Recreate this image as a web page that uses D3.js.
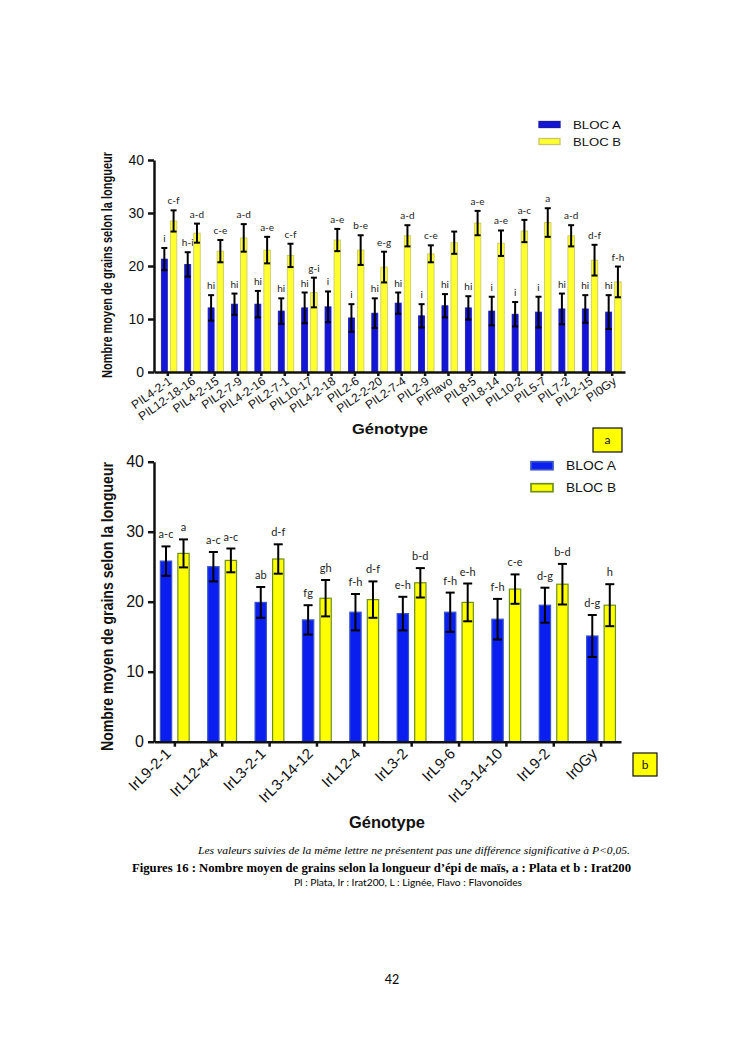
<!DOCTYPE html>
<html>
<head>
<meta charset="utf-8">
<script src="https://cdn.jsdelivr.net/npm/d3@7"></script>
<style>
  body { margin: 0; background: #fff; }
</style>
</head>
<body>
<svg id="page" width="745" height="1053"></svg>
<script>
// --- figure a : Plata ---
const genotypesA = ["PIL4-2-1", "PIL12-18-16", "PIL4-2-15", "PIL2-7-9", "PIL4-2-16", "PIL2-7-1", "PIL10-17",
    "PIL4-2-18", "PIL2-6", "PIL2-2-20", "PIL2-7-4", "PIL2-9", "PIFlavo", "PIL8-5", "PIL8-14", "PIL10-2",
    "PIL5-7", "PIL7-2", "PIL2-15", "PI0Gy"];
const blocA_a = [21.3, 20.3, 12.1, 12.8, 12.8, 11.5, 12.1, 12.3, 10.2, 11.1, 13.0, 10.6, 12.5, 12.1, 11.5, 10.9, 11.3, 11.9, 11.9, 11.3];
const errA_a = [2.1, 2.3, 2.4, 2.0, 2.5, 2.4, 2.9, 2.9, 2.6, 2.8, 2.0, 2.2, 2.2, 2.2, 2.7, 2.3, 2.9, 2.9, 2.6, 3.2];
const blocB_a = [28.5, 26.2, 22.8, 25.3, 23.0, 22.0, 15.0, 24.9, 23.0, 19.8, 25.7, 22.3, 24.4, 28.1, 24.3, 26.6, 28.2, 25.7, 21.1, 17.0];
const errB_a = [2.0, 1.8, 2.1, 2.6, 2.5, 2.2, 2.8, 2.1, 2.8, 2.9, 2.0, 1.6, 2.1, 2.3, 2.4, 2.1, 2.7, 2.0, 2.9, 2.9];
const lettersA_a = ["i", "h-i", "hi", "hi", "hi", "hi", "hi", "i", "i", "hi", "hi", "i", "hi", "hi", "i", "i", "i", "hi", "hi", "hi"];
const lettersB_a = ["c-f", "a-d", "c-e", "a-d", "a-e", "c-f", "g-i", "a-e", "b-e", "e-g", "a-d", "c-e", "", "a-e", "a-e", "a-c", "a", "a-d", "d-f", "f-h"];

// --- figure b : Irat200 ---
const genotypesB = ["IrL9-2-1", "IrL12-4-4", "IrL3-2-1", "IrL3-14-12", "IrL12-4", "IrL3-2", "IrL9-6", "IrL3-14-10", "IrL9-2", "Ir0Gy"];
const blocA_b = [25.8, 25.0, 19.9, 17.4, 18.5, 18.3, 18.5, 17.5, 19.5, 15.1];
const errA_b = [2.1, 2.1, 2.2, 2.1, 2.6, 2.4, 2.8, 2.9, 2.5, 3.0];
const blocB_b = [26.9, 25.9, 26.1, 20.5, 20.3, 22.7, 19.9, 21.8, 22.5, 19.5];
const errB_b = [2.0, 1.7, 2.1, 2.6, 2.6, 2.1, 2.7, 2.1, 2.9, 3.0];
const lettersA_b = ["a-c", "a-c", "ab", "fg", "f-h", "e-h", "f-h", "f-h", "d-g", "d-g"];
const lettersB_b = ["a", "a-c", "d-f", "gh", "d-f", "b-d", "e-h", "c-e", "b-d", "h"];

const yTicks = [0, 10, 20, 30, 40];
const seriesNames = ["BLOC A", "BLOC B"];
const yTitle = "Nombre moyen de grains selon la longueur";
const xTitle = "Génotype";

const svg = d3.select("#page");
const sans = "'Liberation Sans', Arial, sans-serif";
const calib = "Lato, 'Open Sans', sans-serif";

function drawChart(c) {
    const g = svg.append("g");

    const y = d3.scaleLinear().domain([0, 40]).range([c.bottom, c.top]);
    const x = d3.scalePoint().domain(c.genotypes).range([c.left, c.right]).padding(c.pad);

    const rows = c.genotypes.map((k, i) => ({ k, i }));

    c.series.forEach(s => {
        const val = d => s.values[d.i];
        const err = d => s.errors[d.i];
        const cx = d => x(d.k) + s.off + s.w / 2;

        g.append("g").selectAll("rect")
            .data(rows)
            .join("rect")
            .attr("x", d => x(d.k) + s.off)
            .attr("y", d => y(val(d)))
            .attr("width", s.w)
            .attr("height", d => y(0) - y(val(d)))
            .attr("fill", s.fill)
            .attr("stroke", s.stroke)
            .attr("stroke-width", c.barStroke);

        const eb = g.append("g")
            .attr("stroke", "#000")
            .attr("stroke-width", c.errWidth)
            .selectAll("g")
            .data(rows)
            .join("g");

        eb.append("line")
            .attr("x1", cx).attr("x2", cx)
            .attr("y1", d => y(val(d) - err(d)))
            .attr("y2", d => y(val(d) + err(d)));
        eb.append("line")
            .attr("x1", d => cx(d) - c.cap / 2).attr("x2", d => cx(d) + c.cap / 2)
            .attr("y1", d => y(val(d) + err(d))).attr("y2", d => y(val(d) + err(d)));
        eb.append("line")
            .attr("x1", d => cx(d) - c.cap / 2).attr("x2", d => cx(d) + c.cap / 2)
            .attr("y1", d => y(val(d) - err(d))).attr("y2", d => y(val(d) - err(d)));

        g.append("g").selectAll("text")
            .data(rows)
            .join("text")
            .attr("x", cx)
            .attr("y", d => y(val(d) + err(d)) - c.letterGap)
            .attr("text-anchor", "middle")
            .attr("font-family", calib)
            .attr("font-size", c.letterSize)
            .attr("fill", "#222")
            .text(d => s.letters[d.i]);
    });

    // axe Y
    g.append("g")
        .attr("transform", `translate(${c.left},0)`)
        .call(d3.axisLeft(y).tickValues(yTicks).tickSize(c.tickLen).tickSizeOuter(0).tickPadding(c.yPad))
        .call(a => a.selectAll("path, line").attr("stroke", "#111").attr("stroke-width", c.axisWidth))
        .call(a => a.selectAll("text").attr("font-family", sans).attr("font-size", c.yTickSize).attr("fill", "#111"));

    // axe X
    g.append("g")
        .attr("transform", `translate(0,${c.bottom})`)
        .call(d3.axisBottom(x).tickSize(c.xTickLen).tickSizeOuter(0))
        .call(a => a.selectAll("path, line").attr("stroke", "#111").attr("stroke-width", c.axisWidth))
        .call(a => a.selectAll("text")
            .attr("x", 0).attr("y", 0).attr("dy", 0)
            .attr("transform", `translate(${c.lx},${c.ly}) rotate(${-c.angle})`)
            .attr("text-anchor", "end")
            .attr("font-family", sans)
            .attr("font-size", c.xTickSize)
            .attr("fill", "#111"));

    // titres
    g.append("text")
        .attr("transform", `translate(${c.yTitleX},${(c.yTitleTop + c.yTitleBottom) / 2}) rotate(-90)`)
        .attr("text-anchor", "middle")
        .attr("dy", "0.35em")
        .attr("font-family", sans)
        .attr("font-weight", "bold")
        .attr("font-size", c.yTitleSize)
        .attr("textLength", c.yTitleBottom - c.yTitleTop)
        .attr("lengthAdjust", "spacingAndGlyphs")
        .attr("fill", "#111")
        .text(yTitle);

    g.append("text")
        .attr("x", c.xTitleX)
        .attr("y", c.xTitleY)
        .attr("text-anchor", "middle")
        .attr("font-family", sans)
        .attr("font-weight", "bold")
        .attr("font-size", c.xTitleSize)
        .attr("textLength", c.xTitleLen)
        .attr("lengthAdjust", "spacingAndGlyphs")
        .attr("fill", "#111")
        .text(xTitle);

    // légende
    const leg = g.append("g").selectAll("g")
        .data(c.series)
        .join("g")
        .attr("transform", (s, i) => `translate(${c.legX},${c.legY + i * c.legStep})`);
    leg.append("rect")
        .attr("x", 0).attr("y", -c.legH / 2)
        .attr("width", c.legW).attr("height", c.legH)
        .attr("fill", s => s.fill)
        .attr("stroke", s => s.stroke)
        .attr("stroke-width", c.barStroke + 0.5);
    leg.append("text")
        .attr("x", c.legTextX)
        .attr("dy", "0.36em")
        .attr("font-family", sans)
        .attr("font-size", c.legSize)
        .attr("textLength", c.legTextLen)
        .attr("lengthAdjust", "spacingAndGlyphs")
        .attr("fill", "#111")
        .text((s, i) => seriesNames[i]);

    // boîte repère
    g.append("rect")
        .attr("x", c.box[0]).attr("y", c.box[1])
        .attr("width", c.box[2]).attr("height", c.box[3])
        .attr("fill", "#ffff00")
        .attr("stroke", "#111")
        .attr("stroke-width", 1.2);
    g.append("text")
        .attr("x", c.box[0] + c.box[2] / 2)
        .attr("y", c.box[1] + c.box[3] / 2)
        .attr("dy", "0.35em")
        .attr("text-anchor", "middle")
        .attr("font-family", calib)
        .attr("font-size", 12)
        .attr("fill", "#111")
        .text(c.boxLabel);
}

drawChart({
    genotypes: genotypesA,
    top: 160, bottom: 372, left: 154, right: 625, pad: 0.57,
    series: [
        { values: blocA_a, errors: errA_a, letters: lettersA_a, off: -6, w: 6, fill: "#1414d6", stroke: "#1a1aa8" },
        { values: blocB_a, errors: errB_a, letters: lettersB_a, off: 3, w: 6.5, fill: "#ffff30", stroke: "#c8c46a" }
    ],
    barStroke: 0.8, errWidth: 2, cap: 6, letterGap: 6, letterSize: 10,
    axisWidth: 2.5, tickLen: 6, xTickLen: 4, yPad: 4, yTickSize: 14,
    lx: 5, ly: 11, angle: 35, xTickSize: 12,
    yTitleX: 107, yTitleTop: 152, yTitleBottom: 378, yTitleSize: 15,
    xTitleX: 390, xTitleY: 434, xTitleSize: 15, xTitleLen: 76,
    legX: 539, legY: 124.5, legStep: 17, legW: 21, legH: 6, legTextX: 34, legSize: 11.5, legTextLen: 48,
    box: [593, 428, 29, 24], boxLabel: "a"
});

drawChart({
    genotypes: genotypesB,
    top: 461.7, bottom: 741.7, left: 154, right: 621, pad: 0.43,
    series: [
        { values: blocA_b, errors: errA_b, letters: lettersA_b, off: -14, w: 11.3, fill: "#0a1ef0", stroke: "#3a55c8" },
        { values: blocB_b, errors: errB_b, letters: lettersB_b, off: 3.5, w: 11.3, fill: "#ffff00", stroke: "#6f8f1c" }
    ],
    barStroke: 1.2, errWidth: 2, cap: 9, letterGap: 8, letterSize: 11,
    axisWidth: 2.5, tickLen: 6, xTickLen: 5, yPad: 4, yTickSize: 16,
    lx: -3, ly: 13, angle: 45, xTickSize: 15,
    yTitleX: 107, yTitleTop: 462, yTitleBottom: 751, yTitleSize: 17,
    xTitleX: 387, xTitleY: 828, xTitleSize: 16.5, xTitleLen: 76,
    legX: 531, legY: 465.7, legStep: 22, legW: 22, legH: 8, legTextX: 35, legSize: 13, legTextLen: 50,
    box: [633, 753, 24, 23], boxLabel: "b"
});

// notes sous la figure
svg.append("text")
    .attr("x", 630).attr("y", 854)
    .attr("text-anchor", "end")
    .attr("font-family", "'Liberation Serif', 'Times New Roman', serif")
    .attr("font-style", "italic")
    .attr("font-size", 11)
    .attr("textLength", 432)
    .attr("lengthAdjust", "spacingAndGlyphs")
    .text("Les valeurs suivies de la même lettre ne présentent pas une différence significative à P<0,05.");

svg.append("text")
    .attr("x", 132).attr("y", 872)
    .attr("font-family", "'Liberation Serif', 'Times New Roman', serif")
    .attr("font-weight", "bold")
    .attr("font-size", 12)
    .attr("textLength", 499)
    .attr("lengthAdjust", "spacingAndGlyphs")
    .text("Figures 16 : Nombre moyen de grains selon la longueur d’épi de maïs, a : Plata et b : Irat200");

svg.append("text")
    .attr("x", 294).attr("y", 886)
    .attr("font-family", calib)
    .attr("font-size", 9.5)
    .attr("textLength", 228)
    .attr("lengthAdjust", "spacingAndGlyphs")
    .text("Pl : Plata, Ir : Irat200, L : Lignée, Flavo : Flavonoïdes");

svg.append("text")
    .attr("x", 392).attr("y", 984)
    .attr("text-anchor", "middle")
    .attr("font-family", calib)
    .attr("font-size", 12.5)
    .text("42");
</script>
</body>
</html>
